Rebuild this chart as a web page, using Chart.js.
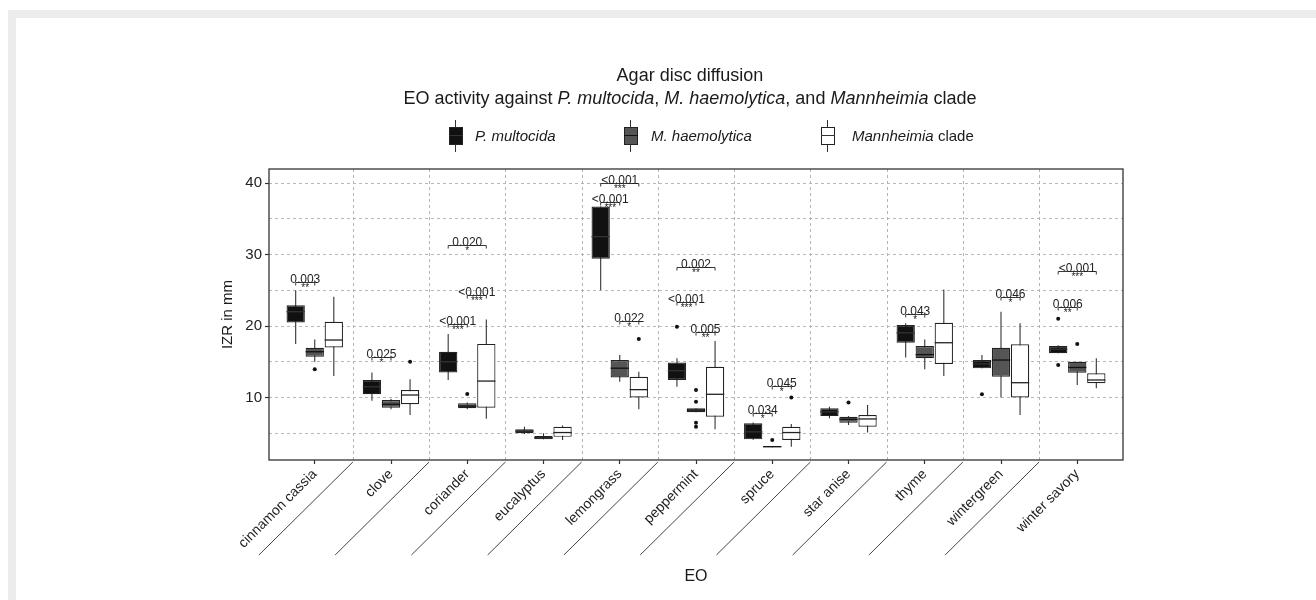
<!DOCTYPE html>
<html>
<head>
<meta charset="utf-8">
<script src="https://cdn.jsdelivr.net/npm/chart.js@4.4.0/dist/chart.umd.min.js"></script>
<style>
  body { margin: 0; background: #fff; font-family: "Liberation Sans", Arial, sans-serif; color: #222; }
  #wrap { position: relative; width: 1316px; height: 600px; overflow: hidden; }
  #frame { position: absolute; left: 8px; top: 10px; width: 1400px; height: 700px;
           border-top: 8px solid #ececec; border-left: 8px solid #ececec; }
  #c { position: absolute; left: 0; top: 0; }
  .title { position: absolute; left: 290px; width: 800px; text-align: center; font-size: 18px; color: #1a1a1a; line-height: 23px; }
  .leg { position: absolute; top: 120px; width: 14px; height: 32px; }
  .leg .wh { position: absolute; left: 6px; top: 0; width: 1px; height: 32px; background: #333; }
  .leg .bx { position: absolute; left: 0; top: 7px; width: 14px; height: 18px; box-sizing: border-box; border: 1.3px solid #222; }
  .leg .md { position: absolute; left: 0; top: 15px; width: 14px; height: 1.3px; background: #333; }
  .legtxt { position: absolute; top: 127px; font-size: 15px; color: #1a1a1a; }
</style>
</head>
<body>
<div id="wrap">
  <div id="frame"></div>
  <canvas id="c" width="1316" height="600"></canvas>
  <div class="title" style="top:64px">Agar disc diffusion</div>
  <div class="title" style="top:87px">EO activity against <i>P. multocida</i>, <i>M. haemolytica</i>, and <i>Mannheimia</i> clade</div>

  <div class="leg" style="left:449px"><div class="wh"></div><div class="bx" style="background:#111"></div><div class="md"></div></div>
  <div class="legtxt" style="left:475px"><i>P. multocida</i></div>
  <div class="leg" style="left:624px"><div class="wh"></div><div class="bx" style="background:#555"></div><div class="md" style="background:#111"></div></div>
  <div class="legtxt" style="left:651px"><i>M. haemolytica</i></div>
  <div class="leg" style="left:821px"><div class="wh"></div><div class="bx" style="background:#fff"></div><div class="md"></div></div>
  <div class="legtxt" style="left:852px"><i>Mannheimia</i> clade</div>
</div>

<script>
// categories (essential oils)
const categories = ['cinnamon cassia', 'clove', 'coriander', 'eucalyptus', 'lemongrass', 'peppermint',
                    'spruce', 'star anise', 'thyme', 'wintergreen', 'winter savory'];
const yTicks = [5, 10, 15, 20, 25, 30, 35, 40];

// P. multocida
const pmLow  = [17.5, 9.55, 12.45, 4.9, 25.0, 11.5, 4.1, 7.1, 15.6, 14.08, 16.2];
const pmQ1   = [20.5, 10.45, 13.5, 5.0, 29.4, 12.45, 4.15, 7.4, 17.66, 14.08, 16.2];
const pmMed  = [22.0, 11.5, 15.0, 5.3, 32.5, 13.75, 5.2, 8.0, 19.05, 14.7, 16.75];
const pmQ3   = [22.9, 12.45, 16.4, 5.55, 36.7, 14.9, 6.4, 8.5, 20.14, 15.24, 17.2];
const pmHigh = [25.0, 13.5, 18.9, 5.9, 36.7, 15.5, 6.5, 8.7, 20.4, 15.94, 17.3];
const pmOut  = [[], [], [], [], [], [19.9], [], [], [], [10.45], [21.0, 14.55]];

// M. haemolytica
const mhLow  = [15.0, 8.35, 8.35, 4.15, 12.2, 7.93, 3.05, 6.15, 13.94, 10.0, 11.75];
const mhQ1   = [15.7, 8.57, 8.5, 4.15, 12.8, 7.93, 3.05, 6.47, 15.5, 12.9, 13.47];
const mhMed  = [16.4, 9.05, 8.8, 4.35, 14.1, 8.25, 3.12, 6.95, 16.0, 15.24, 14.2];
const mhQ3   = [16.97, 9.65, 9.2, 4.6, 15.24, 8.5, 3.2, 7.3, 17.2, 16.97, 15.0];
const mhHigh = [18.1, 9.83, 9.3, 5.0, 15.94, 8.5, 3.2, 7.4, 18.1, 22.0, 15.0];
const mhOut  = [[13.94], [], [10.5], [], [], [11.05, 9.4, 6.47, 5.9], [4.05], [9.3], [], [], [17.5]];

// Mannheimia clade
const mcLow  = [13.0, 7.55, 7.04, 4.05, 8.35, 5.55, 3.1, 5.1, 13.0, 7.55, 11.3];
const mcQ1   = [17.0, 9.05, 8.57, 4.5, 10.0, 7.3, 4.05, 5.9, 14.7, 10.0, 12.0];
const mcMed  = [18.04, 10.35, 12.3, 5.1, 11.1, 10.45, 5.1, 7.0, 17.66, 12.07, 12.45];
const mcQ3   = [20.6, 11.05, 17.5, 5.9, 12.9, 14.3, 5.9, 7.55, 20.46, 17.44, 13.4];
const mcHigh = [24.1, 12.55, 20.9, 6.1, 13.6, 17.9, 6.3, 8.95, 25.1, 20.4, 15.5];
const mcOut  = [[], [15.0], [], [], [18.2], [], [10.0], [], [], [], []];

// significance brackets: category index, from series, to series, height, p value, stars
const sigCat   = [0, 1, 2, 2, 2, 4, 4, 4, 5, 5, 5, 6, 6, 8, 9, 10, 10];
const sigFrom  = [0, 0, 0, 1, 0, 0, 0, 1, 0, 0, 1, 0, 1, 0, 1, 0, 0];
const sigTo    = [1, 1, 2, 2, 1, 2, 1, 2, 2, 1, 2, 1, 2, 1, 2, 1, 2];
const sigY     = [26.2, 15.7, 31.3, 24.3, 20.3, 40.0, 37.4, 20.7, 28.2, 23.4, 19.2, 7.8, 11.6, 21.7, 24.1, 22.7, 27.7];
const sigP     = ['0.003', '0.025', '0.020', '<0.001', '<0.001', '<0.001', '<0.001', '0.022', '0.002', '<0.001',
                  '0.005', '0.034', '0.045', '0.043', '0.046', '0.006', '<0.001'];
const sigStars = ['**', '*', '*', '***', '***', '***', '***', '*', '**', '***', '**', '*', '*', '*', '*', '**', '***'];

const seriesNames = ['P. multocida', 'M. haemolytica', 'Mannheimia clade'];
const seriesFill = ['#111111', '#555555', '#ffffff'];
const seriesMedian = ['#333333', '#111111', '#222222'];

const stats = [
  { low: pmLow, q1: pmQ1, med: pmMed, q3: pmQ3, high: pmHigh, out: pmOut },
  { low: mhLow, q1: mhQ1, med: mhMed, q3: mhQ3, high: mhHigh, out: mhOut },
  { low: mcLow, q1: mcQ1, med: mcMed, q3: mcQ3, high: mcHigh, out: mcOut }
];

const FONT = '"Liberation Sans", Arial, sans-serif';

const boxExtras = {
  id: 'boxExtras',
  beforeDatasetsDraw(chart) {
    const { ctx, chartArea, scales: { x, y } } = chart;
    ctx.save();
    // vertical dashed grid between categories
    ctx.strokeStyle = '#b3b3b3';
    ctx.lineWidth = 1;
    ctx.setLineDash([3, 3]);
    for (let k = 1; k < categories.length; k++) {
      const px = Math.round(x.getPixelForValue(k + 0.5)) + 0.5;
      ctx.beginPath();
      ctx.moveTo(px, chartArea.top);
      ctx.lineTo(px, chartArea.bottom);
      ctx.stroke();
    }
    ctx.setLineDash([]);
    // whiskers
    ctx.strokeStyle = '#333';
    ctx.lineWidth = 1.1;
    stats.forEach((s, d) => {
      chart.getDatasetMeta(d).data.forEach((bar, i) => {
        ctx.beginPath();
        ctx.moveTo(bar.x, y.getPixelForValue(s.low[i]));
        ctx.lineTo(bar.x, y.getPixelForValue(s.high[i]));
        ctx.stroke();
      });
    });
    ctx.restore();
  },
  afterDatasetsDraw(chart) {
    const { ctx, scales: { y } } = chart;
    ctx.save();
    stats.forEach((s, d) => {
      chart.getDatasetMeta(d).data.forEach((bar, i) => {
        const py = y.getPixelForValue(s.med[i]);
        ctx.strokeStyle = seriesMedian[d];
        ctx.lineWidth = 1.3;
        ctx.beginPath();
        ctx.moveTo(bar.x - bar.width / 2, py);
        ctx.lineTo(bar.x + bar.width / 2, py);
        ctx.stroke();
        ctx.fillStyle = '#111';
        s.out[i].forEach(v => {
          ctx.beginPath();
          ctx.arc(bar.x, y.getPixelForValue(v), 2, 0, Math.PI * 2);
          ctx.fill();
        });
      });
    });
    // brackets
    ctx.strokeStyle = '#222';
    ctx.fillStyle = '#222';
    ctx.lineWidth = 0.9;
    ctx.textAlign = 'center';
    sigCat.forEach((c, k) => {
      const a = chart.getDatasetMeta(sigFrom[k]).data[c];
      const b = chart.getDatasetMeta(sigTo[k]).data[c];
      const py = Math.round(y.getPixelForValue(sigY[k])) + 0.5;
      ctx.beginPath();
      ctx.moveTo(a.x, py + 3);
      ctx.lineTo(a.x, py);
      ctx.lineTo(b.x, py);
      ctx.lineTo(b.x, py + 3);
      ctx.stroke();
      const mid = (a.x + b.x) / 2;
      ctx.font = '12px ' + FONT;
      ctx.textBaseline = 'alphabetic';
      ctx.fillText(sigP[k], mid, py);
      ctx.font = '10px ' + FONT;
      ctx.textBaseline = 'top';
      ctx.fillText(sigStars[k], mid, py + 1);
    });
    ctx.restore();
  },
  afterDraw(chart) {
    const { ctx, chartArea, scales: { x } } = chart;
    ctx.save();
    ctx.strokeStyle = '#333';
    ctx.lineWidth = 1.3;
    ctx.strokeRect(chartArea.left, chartArea.top, chartArea.right - chartArea.left, chartArea.bottom - chartArea.top);
    // slanted separators under the axis
    ctx.strokeStyle = '#444';
    ctx.lineWidth = 1;
    for (let k = 1; k < categories.length; k++) {
      const px = x.getPixelForValue(k + 0.5);
      ctx.beginPath();
      ctx.moveTo(px, chartArea.bottom + 2);
      ctx.lineTo(px - 94, chartArea.bottom + 95);
      ctx.stroke();
    }
    ctx.restore();
  }
};

const datasets = stats.map((s, d) => ({
  label: seriesNames[d],
  data: categories.map((c, i) => ({ x: i + 1, y: [s.q1[i], s.q3[i]] })),
  backgroundColor: seriesFill[d],
  borderColor: '#222',
  borderWidth: 1.2,
  borderSkipped: false,
  barPercentage: 0.96,
  categoryPercentage: 0.75
}));

new Chart(document.getElementById('c').getContext('2d'), {
  type: 'bar',
  data: { datasets: datasets },
  options: {
    responsive: false,
    animation: false,
    devicePixelRatio: 1,
    layout: { padding: { left: 200, right: 193, top: 169, bottom: 10 } },
    plugins: { legend: { display: false }, tooltip: { enabled: false } },
    scales: {
      x: {
        type: 'linear',
        min: 0.4,
        max: 11.6,
        offset: false,
        afterBuildTicks: s => { s.ticks = categories.map((c, i) => ({ value: i + 1 })); },
        afterFit: s => { s.height = 130; },
        ticks: {
          callback: v => categories[Math.round(v) - 1] || '',
          minRotation: 45, maxRotation: 45, autoSkip: false,
          color: '#222', font: { family: FONT, size: 14 }, padding: 2
        },
        grid: { drawOnChartArea: false, offset: false, tickLength: 4, tickColor: '#333', tickWidth: 1.2 },
        border: { display: false },
        title: { display: true, text: 'EO', color: '#1a1a1a', font: { family: FONT, size: 16 }, padding: { top: 4, bottom: 4 } }
      },
      y: {
        min: 1.26,
        max: 41.96,
        afterBuildTicks: s => { s.ticks = yTicks.map(v => ({ value: v })); },
        afterFit: s => { s.width = 69; },
        ticks: {
          callback: v => (v % 10 === 0 ? String(v) : ''),
          color: '#222', font: { family: FONT, size: 15 }, padding: 3
        },
        grid: {
          color: '#b8b8b8',
          tickColor: c => (c.tick && c.tick.value % 10 === 0 ? '#333' : 'rgba(0,0,0,0)'),
          tickLength: 4, tickWidth: 1.2, tickBorderDash: []
        },
        border: { display: false, dash: [3, 3] },
        title: { display: true, text: 'IZR in mm', color: '#1a1a1a', font: { family: FONT, size: 15 }, padding: { top: 19, bottom: 0 } }
      }
    }
  },
  plugins: [boxExtras]
});
</script>
</body>
</html>
